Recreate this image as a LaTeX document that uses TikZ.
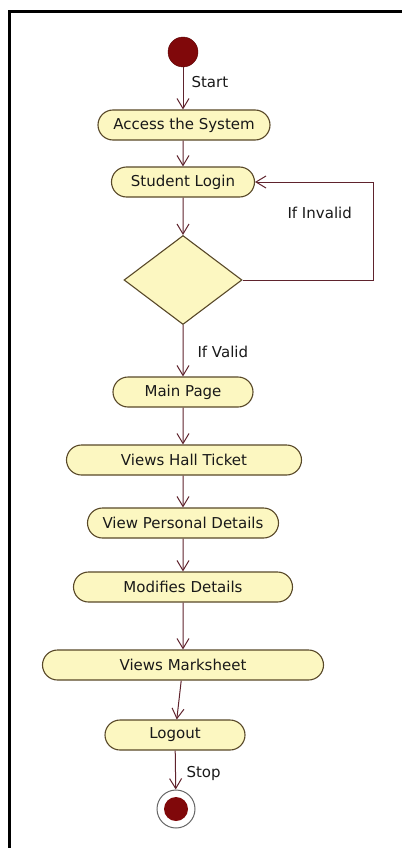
\documentclass[tikz,border=0pt]{standalone}
\usepackage{fontspec}
\setmainfont{DejaVu Sans}
\usetikzlibrary{shapes,arrows.meta,positioning}
\definecolor{actfill}{RGB}{252,247,193}
\definecolor{actline}{RGB}{88,72,40}
\definecolor{flowcol}{RGB}{95,35,45}
\definecolor{dotcol}{RGB}{128,8,10}

\begin{document}
\begin{tikzpicture}[x=1pt,y=-1pt]
          %% ACTIVITY DIAGRAM

          \useasboundingbox (0,0) rectangle (402,848);
          \tikzstyle{every node}=[font=\fontsize{15}{17}\selectfont,text=black!90]
          \tikzstyle{activity}=[rounded rectangle,draw=actline,fill=actfill,line width=1.1pt,minimum height=30pt,inner sep=0pt]
          \tikzstyle{flow}=[->,>={Straight Barb[length=10pt,width=12pt]},draw=flowcol,line width=1pt]
          % frame
          \draw[line width=3pt] (9,848) -- (9,12) -- (402,12);

          % start and actions
          \node[circle,fill=dotcol,draw=dotcol!70!black,minimum size=30pt,inner sep=0pt] (start) at (183,52) {};
          \node[activity,minimum width=172pt] (access) at (184,125) {Access the System};
          \node[activity,minimum width=143pt] (login) at (183,182) {Student Login};
          \node[diamond,draw=actline,fill=actfill,line width=1.1pt,aspect=1.33,minimum width=118pt,minimum height=89pt,inner sep=0pt] (check) at (183,280) {};
          \node[activity,minimum width=140pt] (main) at (183,392) {Main Page};
          \node[activity,minimum width=235pt] (hall) at (184,460) {Views Hall Ticket};
          \node[activity,minimum width=191pt] (personal) at (183,523) {View Personal Details};
          \node[activity,minimum width=219pt] (modify) at (183,587) {Modifies Details};
          \node[activity,minimum width=281pt] (marks) at (183,665) {Views Marksheet};
          \node[activity,minimum width=140pt] (logout) at (175,735) {Logout};
          \node[circle,draw=black!60,fill=white,line width=1pt,minimum size=38pt,inner sep=0pt] (stop) at (176,809) {};
          \node[circle,fill=dotcol,minimum size=24pt,inner sep=0pt] (stopdot) at (stop) {};

          % labels
          \node[anchor=west] (lstart) at (188,82) {Start};
          \node[anchor=west] (linvalid) at (284,213) {If Invalid};
          \node[anchor=west] (lvalid) at (194,352) {If Valid};
          \node[anchor=west] (lstop) at (183,773) {Stop};

          % flows
          \coordinate (loop) at (373,182);
          \draw[flow] (start) -- (start |- access.north);
          \draw[flow] (start |- access.south) -- (login);
          \draw[flow] (login) -- (check.north);
          \draw[flow] (check.east) -| (loop) -- (login.east);
          \draw[flow] (check.south) -- (main);
          \draw[flow] (main) -- (main |- hall.north);
          \draw[flow] (main |- hall.south) -- (personal);
          \draw[flow] (personal) -- (modify);
          \draw[flow] (modify) -- (marks);
          \draw[flow] (marks) -- (logout);
          \draw[flow] (logout) -- (stop);
        \end{tikzpicture}
\end{document}
